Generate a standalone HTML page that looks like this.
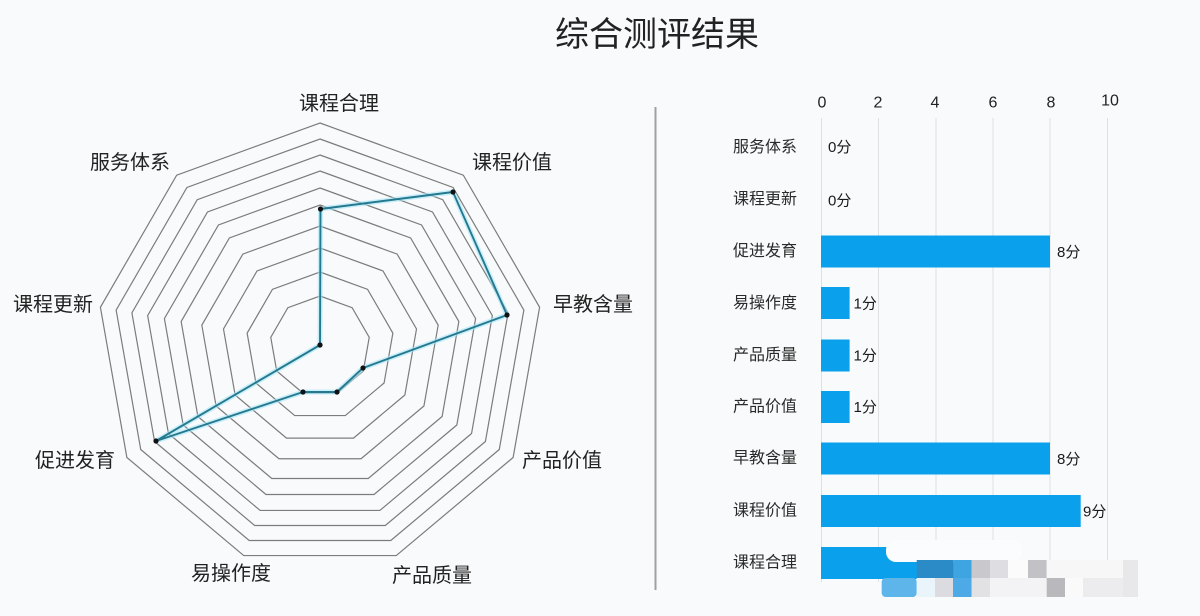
<!DOCTYPE html>
<html>
<head>
<meta charset="utf-8">
<style>
  html,body{margin:0;padding:0;background:#f9fafb;}
  svg{display:block;}
  text{font-family:"Liberation Sans","Noto Sans CJK SC",sans-serif;}
</style>
</head>
<body>
<svg width="1200" height="616" viewBox="0 0 1200 616" xmlns="http://www.w3.org/2000/svg">
  <rect x="0" y="0" width="1200" height="616" fill="#f9fafb"/>

  <!-- Title -->
  <text x="657" y="35" font-size="34" fill="#222" text-anchor="middle" dominant-baseline="central">综合测评结果</text>

  <!-- Separator -->
  <line x1="655.5" y1="107" x2="655.5" y2="590" stroke="#a0a0a0" stroke-width="2"/>

  <!-- Radar rings -->
  <defs>
    <polygon id="ng" points="0,-100 64.28,-76.60 98.48,-17.36 86.60,50 34.20,93.97 -34.20,93.97 -86.60,50 -98.48,-17.36 -64.28,-76.60" fill="none" stroke="#7c7c7c" stroke-width="1.2" vector-effect="non-scaling-stroke"/>
  </defs>
  <g>
    <use href="#ng" transform="translate(320,346) scale(0.50)"/>
    <use href="#ng" transform="translate(320,346) scale(0.74)"/>
    <use href="#ng" transform="translate(320,346) scale(0.98)"/>
    <use href="#ng" transform="translate(320,346) scale(1.20)"/>
    <use href="#ng" transform="translate(320,346) scale(1.41)"/>
    <use href="#ng" transform="translate(320,346) scale(1.58)"/>
    <use href="#ng" transform="translate(320,346) scale(1.75)"/>
    <use href="#ng" transform="translate(320,346) scale(1.91)"/>
    <use href="#ng" transform="translate(320,346) scale(2.07)"/>
    <use href="#ng" transform="translate(320,346) scale(2.23)"/>
  </g>

  <!-- Data line -->
  <polyline points="320.5,209 453,192 507,315 363,368 337,392 303,392 156,441 320,345 320.5,209" fill="none" stroke="#a6e6f8" stroke-width="5" stroke-opacity="0.6" stroke-linejoin="round"/>
  <polyline points="320.5,209 453,192 507,315 363,368 337,392 303,392 156,441 320,345 320.5,209" fill="none" stroke="#24798f" stroke-width="1.9" stroke-linejoin="round"/>
  <g fill="#111">
    <circle cx="320.5" cy="209" r="2.6"/>
    <circle cx="453" cy="192" r="2.6"/>
    <circle cx="507" cy="315" r="2.6"/>
    <circle cx="363" cy="368" r="2.6"/>
    <circle cx="337" cy="392" r="2.6"/>
    <circle cx="303" cy="392" r="2.6"/>
    <circle cx="156" cy="441" r="2.6"/>
    <circle cx="320" cy="345" r="2.6"/>
  </g>

  <!-- Radar labels -->
  <g font-size="20" fill="#222" text-anchor="middle" dominant-baseline="central">
    <text x="339" y="104">课程合理</text>
    <text x="512" y="163">课程价值</text>
    <text x="593" y="305">早教含量</text>
    <text x="562" y="461">产品价值</text>
    <text x="432" y="576">产品质量</text>
    <text x="231" y="574">易操作度</text>
    <text x="75" y="461">促进发育</text>
    <text x="53" y="305">课程更新</text>
    <text x="130" y="163">服务体系</text>
  </g>

  <!-- Bar chart gridlines -->
  <g stroke="#e0e0e2" stroke-width="1">
    <line x1="821.5" y1="118" x2="821.5" y2="582"/>
    <line x1="878.5" y1="118" x2="878.5" y2="582"/>
    <line x1="936" y1="118" x2="936" y2="582"/>
    <line x1="993" y1="118" x2="993" y2="582"/>
    <line x1="1050" y1="118" x2="1050" y2="582"/>
    <line x1="1107.5" y1="118" x2="1107.5" y2="582"/>
  </g>

  <!-- Tick labels -->
  <g font-size="16" fill="#222" text-anchor="middle" dominant-baseline="central">
    <text x="822" y="103">0</text>
    <text x="878" y="103">2</text>
    <text x="935" y="103">4</text>
    <text x="993" y="103">6</text>
    <text x="1051" y="103">8</text>
    <text x="1110" y="101">10</text>
  </g>

  <!-- Category labels -->
  <g font-size="16" fill="#2a2a2a" text-anchor="middle" dominant-baseline="central">
    <text x="765" y="147.5">服务体系</text>
    <text x="765" y="199.5">课程更新</text>
    <text x="765" y="251.5">促进发育</text>
    <text x="765" y="303.5">易操作度</text>
    <text x="765" y="355.5">产品质量</text>
    <text x="765" y="407">产品价值</text>
    <text x="765" y="458.5">早教含量</text>
    <text x="765" y="511">课程价值</text>
    <text x="765" y="563">课程合理</text>
  </g>

  <!-- Bars -->
  <g fill="#0aa0ec">
    <rect x="821" y="235.5" width="229" height="32"/>
    <rect x="821" y="287" width="28.6" height="32"/>
    <rect x="821" y="339.5" width="28.6" height="32"/>
    <rect x="821" y="391" width="28.6" height="32"/>
    <rect x="821" y="442.5" width="229" height="32"/>
    <rect x="821" y="495" width="259.7" height="32"/>
    <rect x="821" y="547" width="143" height="32"/>
  </g>

  <!-- Value labels -->
  <g font-size="15" fill="#1a1a1a" dominant-baseline="central">
    <text x="828" y="147.5">0分</text>
    <text x="828" y="201">0分</text>
    <text x="1057" y="252.5">8分</text>
    <text x="853.5" y="304">1分</text>
    <text x="853.5" y="356">1分</text>
    <text x="853.5" y="407.5">1分</text>
    <text x="1057" y="459.5">8分</text>
    <text x="1083" y="512">9分</text>
  </g>

  <!-- Watermark mosaic approximation -->
  <g>
    <rect x="886" y="540" width="136" height="22" rx="10" fill="#fbfcfd"/>
    <rect x="916.7" y="560" width="36.6" height="18" fill="#2b8bc6"/>
    <rect x="953.3" y="560" width="18.4" height="18" fill="#3ea4e2"/>
    <rect x="971.7" y="560" width="18.3" height="18" fill="#c9c9cd"/>
    <rect x="990" y="560" width="18" height="18" fill="#dedee2"/>
    <rect x="1008" y="560" width="20" height="18" fill="#fbfbfc"/>
    <rect x="1028" y="560" width="18.7" height="18" fill="#c2c2c6"/>
    <rect x="1046.7" y="560" width="76.3" height="18" fill="#f7f7f8"/>
    <rect x="1123" y="560" width="15" height="37" fill="#e8e8ea"/>
    <rect x="881.7" y="578" width="35" height="19" rx="4" fill="#5db5ea"/>
    <rect x="916.7" y="578" width="18.3" height="19" fill="#eaf5fb"/>
    <rect x="935" y="578" width="18" height="19" fill="#dcdce0"/>
    <rect x="953" y="578" width="18.7" height="19" fill="#4eaae6"/>
    <rect x="971.7" y="578" width="18.3" height="19" fill="#e2e2e5"/>
    <rect x="990" y="578" width="56.7" height="19" fill="#f3f3f5"/>
    <rect x="1046.7" y="578" width="18.3" height="19" fill="#b9b9bd"/>
    <rect x="1065" y="578" width="18" height="19" fill="#fafafa"/>
    <rect x="1083" y="578" width="40" height="19" fill="#ececee"/>
  </g>
</svg>
</body>
</html>
